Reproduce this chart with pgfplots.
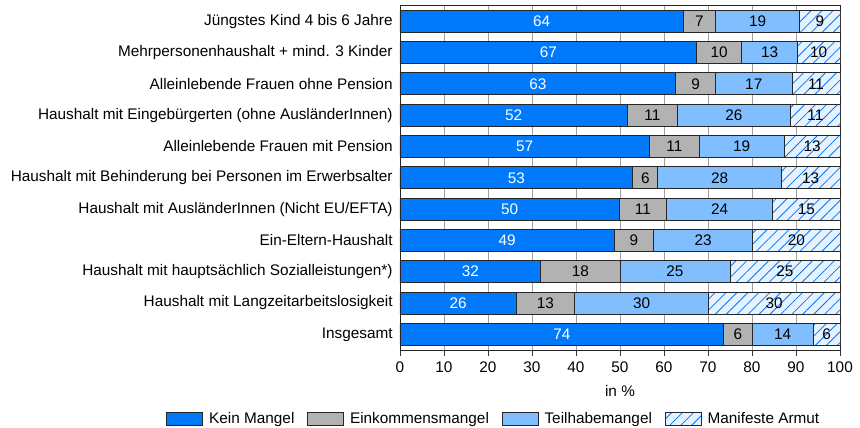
\documentclass[border=0pt]{standalone}
\usepackage{fontspec}
\setmainfont{Liberation Sans}
\usepackage{pgfplots}
\usepackage{pgfplotstable}
\pgfplotsset{compat=1.18}
\usetikzlibrary{patterns.meta}

\definecolor{keinblue}{RGB}{0,122,250}
\definecolor{einkgray}{RGB}{178,178,178}
\definecolor{teilblue}{RGB}{128,190,255}
\definecolor{hatchbg}{RGB}{230,242,255}
\definecolor{hatchline}{RGB}{0,120,250}

% y = row from top, k = Kein Mangel, e = Einkommensmangel, t = Teilhabemangel, m = Manifeste Armut
\pgfplotstableread{
y k e t m
0 64.4 7.3 19.2 9.1
1 67.4 10.3 12.6 9.7
2 62.7 9.0 17.4 10.9
3 51.7 11.3 25.8 11.2
4 56.7 11.3 19.3 12.7
5 52.9 5.7 28.1 13.3
6 49.8 10.8 24.1 15.3
7 48.7 8.9 22.6 19.8
8 32.0 18.0 25.0 25.0
9 26.4 13.3 30.4 29.9
10 73.6 6.4 13.9 6.1
}\data

\begin{document}
\begin{tikzpicture}[font=\fontsize{11.5}{13.8}\selectfont]
\begin{axis}[
    scale only axis,
    width=330pt, height=258.4pt,
    at={(0,0)}, anchor=south west,
    xbar stacked,
    bar width=16.5pt,
    xmin=0, xmax=100,
    ymin=-0.5, ymax=10.5,
    y dir=reverse,
    ytick={0,...,10},
    yticklabels={
        Jüngstes Kind 4 bis 6 Jahre,
        Mehrpersonenhaushalt + mind. 3 Kinder,
        Alleinlebende Frauen ohne Pension,
        Haushalt mit Eingebürgerten (ohne AusländerInnen),
        Alleinlebende Frauen mit Pension,
        Haushalt mit Behinderung bei Personen im Erwerbsalter,
        Haushalt mit AusländerInnen (Nicht EU/EFTA),
        Ein-Eltern-Haushalt,
        Haushalt mit hauptsächlich Sozialleistungen*),
        Haushalt mit Langzeitarbeitslosigkeit,
        Insgesamt},
    ytick style={draw=none},
    yticklabel style={xshift=-2pt},
    xtick={0,10,...,100},
    xtick align=outside,
    xtick pos=left,
    major tick length=4.5pt,
    xtick style={black!80, line width=0.6pt},
    xticklabel style={yshift=-1pt},
    xmajorgrids,
    grid style={gray!75, line width=0.6pt},
    axis line style={black!85, line width=0.7pt},
    /pgf/number format/assume math mode=true,
    xlabel={in \%},
    xlabel style={yshift=-2.5pt},
    every axis plot/.append style={draw=black!85, line width=0.7pt},
    point meta=explicit,
    nodes near coords={\pgfmathprintnumber[fixed,precision=0]{\pgfplotspointmeta}},
    every node near coord/.append style={anchor=center},
    legend image code/.code={\draw[#1] (0pt,-5pt) rectangle (27pt,5pt);},
    legend columns=4,
    legend style={draw=none, fill=none, at={(axis description cs:-0.5409,-0.2)}, anchor=west,
        /tikz/every odd column/.append style={column sep=2.5pt},
        /tikz/every even column/.append style={column sep=7.5pt}},
]
\addplot[fill=keinblue, every node near coord/.append style={text=white}] table[x=k, y=y, meta=k] {\data};
\addlegendentry{Kein Mangel}
\addplot[fill=einkgray] table[x=e, y=y, meta=e] {\data};
\addlegendentry{Einkommensmangel}
\addplot[fill=teilblue] table[x=t, y=y, meta=t] {\data};
\addlegendentry{Teilhabemangel}
\addplot[fill=hatchbg, postaction={pattern={Lines[angle=45,distance=5.8pt,line width=0.6pt]}, pattern color=hatchline}]
    table[x=m, y=y, meta=m] {\data};
\addlegendentry{Manifeste Armut}
\end{axis}
\pgfresetboundingbox
\useasboundingbox (-300pt,-58.5pt) rectangle (345pt,262.5pt);
\end{tikzpicture}
\end{document}
